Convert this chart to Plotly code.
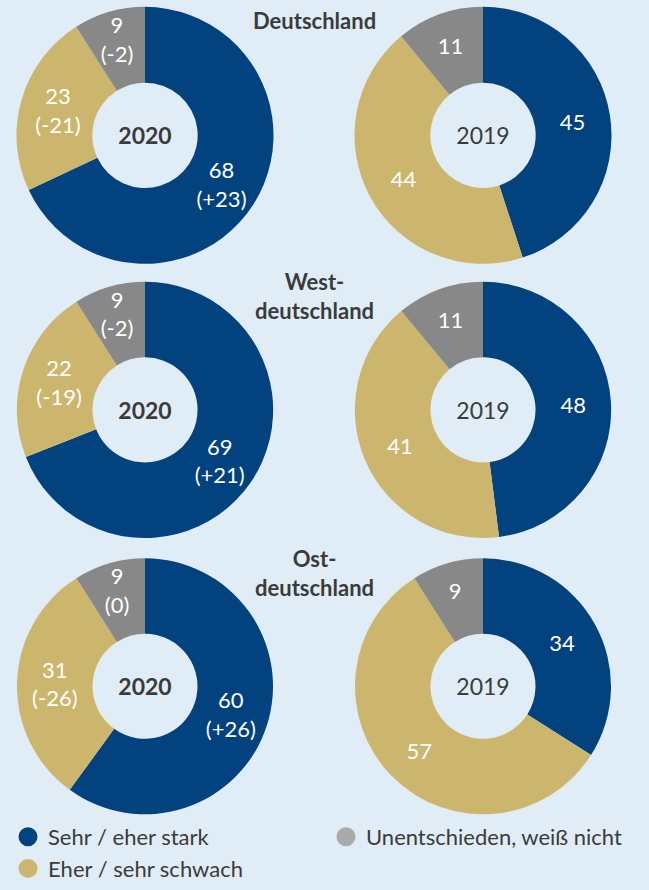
import plotly.graph_objects as go

# ---- data ----
categories = ["Sehr / eher stark", "Eher / sehr schwach", "Unentschieden, weiß nicht"]
regions = ["Deutschland", "West-<br>deutschland", "Ost-<br>deutschland"]
values_2020 = [[68, 23, 9], [69, 22, 9], [60, 31, 9]]
changes_2020 = [["+23", "-21", "-2"], ["+21", "-19", "-2"], ["+26", "-26", "0"]]
values_2019 = [[45, 44, 11], [48, 41, 11], [34, 57, 9]]
year_labels = ["2020", "2019"]
legend_order = [0, 2, 1]

# ---- style ----
slice_colors = ["#02427e", "#ccb66d", "#888888"]
legend_colors = ["#02427e", "#ccb66d", "#a9aaac"]
bg = "#e0edf6"
dark = "#3b3b3b"
FONT = "Lato"

W, H = 649, 890
left_x = [16.5 / W, 273.5 / W]
right_x = [354.5 / W, 611.5 / W]
rows_y = [
    [1 - 264.0 / H, 1 - 6.7 / H],
    [1 - 538.0 / H, 1 - 281.7 / H],
    [1 - 814.3 / H, 1 - 558.3 / H],
]
title_y = [1 - 20.7 / H, 1 - 296.5 / H, 1 - 573.3 / H]

fig = go.Figure()

for i in range(3):
    # 2020
    texts20 = [f"{v}<br>({c})" for v, c in zip(values_2020[i], changes_2020[i])]
    fig.add_trace(go.Pie(
        labels=categories, values=values_2020[i], text=texts20,
        texttemplate="%{text}", textinfo="text",
        sort=False, direction="clockwise", rotation=0, hole=0.41,
        marker=dict(colors=slice_colors, line=dict(width=0)),
        textfont=dict(family=FONT, size=22, color="white"),
        insidetextorientation="horizontal", textposition="inside",
        domain=dict(x=left_x, y=rows_y[i]),
        title=dict(text=f"<b>{year_labels[0]}</b>", position="middle center",
                   font=dict(family=FONT, size=23, color=dark)),
        showlegend=False, hoverinfo="skip",
    ))
    # 2019
    texts19 = [f"{v}" for v in values_2019[i]]
    fig.add_trace(go.Pie(
        labels=categories, values=values_2019[i], text=texts19,
        texttemplate="%{text}", textinfo="text",
        sort=False, direction="clockwise", rotation=0, hole=0.41,
        marker=dict(colors=slice_colors, line=dict(width=0)),
        textfont=dict(family=FONT, size=22, color="white"),
        insidetextorientation="horizontal", textposition="inside",
        domain=dict(x=right_x, y=rows_y[i]),
        title=dict(text=year_labels[1], position="middle center",
                   font=dict(family=FONT, size=23, color=dark)),
        showlegend=False, hoverinfo="skip",
    ))
    fig.add_annotation(
        text=f"<b>{regions[i]}</b>", x=314.6 / W, y=title_y[i],
        xref="paper", yref="paper", xanchor="center", yanchor="middle",
        showarrow=False, font=dict(family=FONT, size=22, color=dark),
    )

for k in legend_order:
    fig.add_trace(go.Scatter(
        x=[None], y=[None], mode="markers", name=categories[k],
        marker=dict(size=16, color=legend_colors[k],
                    line=dict(width=3, color=legend_colors[k])),
        showlegend=True, hoverinfo="skip",
    ))

fig.update_layout(
    width=W, height=H,
    margin=dict(l=0, r=0, t=0, b=0, autoexpand=False),
    paper_bgcolor=bg, plot_bgcolor=bg,
    xaxis=dict(visible=False), yaxis=dict(visible=False),
    uniformtext=dict(minsize=22, mode="show"),
    legend=dict(
        orientation="h", x=8 / W, xanchor="left",
        y=-9 / H, yanchor="bottom", yref="container",
        entrywidth=273, entrywidthmode="pixels",
        font=dict(family=FONT, size=22, color=dark),
        bgcolor="rgba(0,0,0,0)", traceorder="normal",
    ),
)

fig.write_html(
    "out.html",
    config={"displayModeBar": False},
    post_script="document.body.style.margin='0';document.body.style.overflow='hidden';",
)
